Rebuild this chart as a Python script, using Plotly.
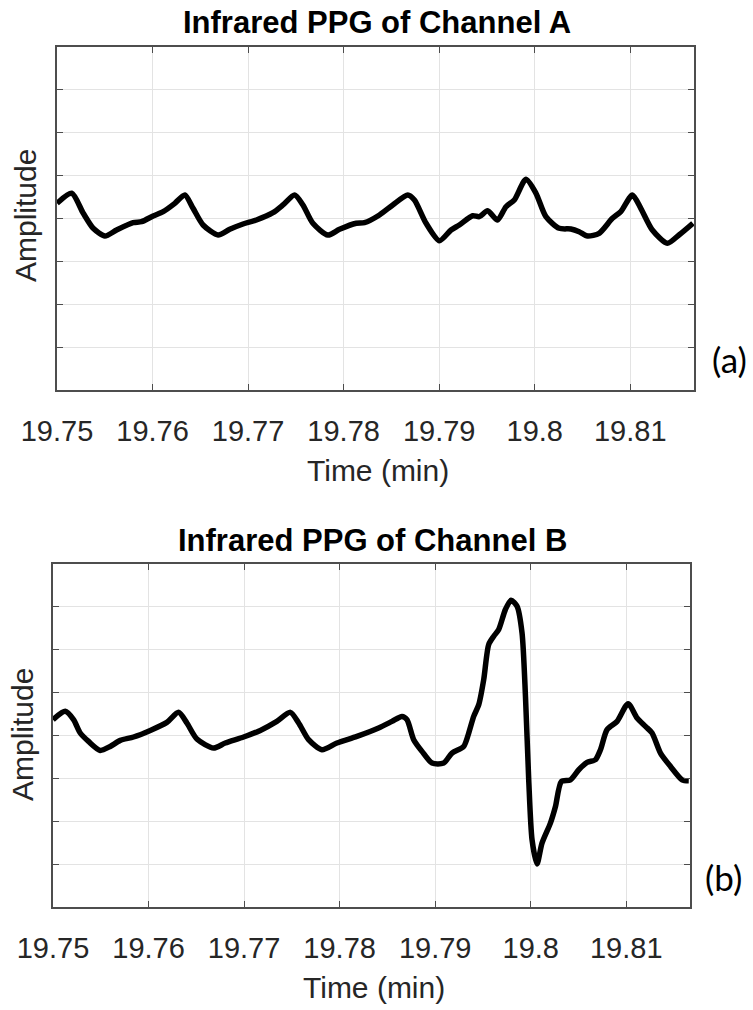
import plotly.graph_objects as go

# ---------------- data ----------------
time_a = [19.75, 19.75154, 19.75275, 19.75379, 19.75502, 19.75624, 19.75797, 19.75885,
          19.76006, 19.76111, 19.76233, 19.76338, 19.76424, 19.76529, 19.76686, 19.76808,
          19.76947, 19.77087, 19.7726, 19.77365, 19.77487, 19.77574, 19.77678, 19.77835,
          19.77957, 19.78132, 19.78218, 19.78375, 19.78514, 19.78671, 19.78741, 19.78863,
          19.79002, 19.79124, 19.79211, 19.7935, 19.7942, 19.79507, 19.79611, 19.79699,
          19.79786, 19.79908, 19.80013, 19.80117, 19.80256, 19.80378, 19.80465, 19.80552,
          19.80674, 19.80813, 19.80901, 19.81022, 19.8111, 19.81231, 19.81388, 19.8151,
          19.81656]
amp_a = [4.354, 4.588, 4.121, 3.771, 3.592, 3.732, 3.902, 3.925,
         4.058, 4.159, 4.354, 4.548, 4.238, 3.848, 3.615, 3.748,
         3.872, 3.965, 4.135, 4.315, 4.548, 4.315, 3.888, 3.615,
         3.748, 3.888, 3.902, 4.082, 4.315, 4.548, 4.431, 3.888,
         3.482, 3.732, 3.848, 4.065, 4.042, 4.182, 3.965, 4.275,
         4.431, 4.914, 4.588, 4.042, 3.771, 3.755, 3.692, 3.592,
         3.655, 4.005, 4.159, 4.548, 4.238, 3.732, 3.422, 3.615,
         3.888]

time_b = [19.75, 19.75128, 19.75215, 19.75285, 19.75372, 19.75494, 19.75599, 19.75704,
          19.75843, 19.76018, 19.76192, 19.76314, 19.76401, 19.76506, 19.76681, 19.76803,
          19.76995, 19.7717, 19.77343, 19.77484, 19.77571, 19.77675, 19.77815, 19.77972,
          19.78181, 19.78408, 19.78548, 19.78652, 19.78705, 19.78775, 19.78862, 19.78967,
          19.79089, 19.79176, 19.79298, 19.79351, 19.79403, 19.79456, 19.79508, 19.7956,
          19.79613, 19.79665, 19.79735, 19.79794, 19.79857, 19.79909, 19.79945, 19.79979,
          19.80014, 19.80066, 19.80118, 19.80206, 19.80259, 19.80321, 19.80416, 19.80503,
          19.8059, 19.80677, 19.8073, 19.80799, 19.80904, 19.81019, 19.81113, 19.81201,
          19.8127, 19.81358, 19.81463, 19.81584, 19.81654]
amp_b = [4.369, 4.563, 4.369, 4.058, 3.862, 3.652, 3.745, 3.886,
         3.965, 4.119, 4.306, 4.540, 4.292, 3.918, 3.708, 3.825,
         3.965, 4.119, 4.329, 4.540, 4.292, 3.902, 3.668, 3.825,
         3.979, 4.175, 4.329, 4.446, 4.369, 3.902, 3.629, 3.357,
         3.357, 3.591, 3.745, 4.058, 4.446, 4.720, 5.304, 6.121,
         6.315, 6.472, 6.939, 7.157, 7.016, 6.395, 4.914, 2.967,
         1.565, 1.005, 1.488, 1.956, 2.343, 2.928, 2.967, 3.201,
         3.372, 3.435, 3.668, 4.136, 4.329, 4.743, 4.409, 4.213,
         4.058, 3.591, 3.278, 2.967, 2.944]

tick_vals = [19.75, 19.76, 19.77, 19.78, 19.79, 19.80, 19.81]
tick_text = ["19.75", "19.76", "19.77", "19.78", "19.79", "19.8", "19.81"]
panel_titles = ["Infrared PPG of Channel A", "Infrared PPG of Channel B"]
panel_tags = ["(a)", "(b)"]

# ---------------- figure ----------------
W, H = 753, 1010
fig = go.Figure()
fig.add_trace(go.Scatter(x=time_a, y=amp_a, mode="lines", xaxis="x", yaxis="y",
                         line=dict(color="black", width=5.5, shape="spline", smoothing=0.7),
                         showlegend=False, hoverinfo="skip"))
fig.add_trace(go.Scatter(x=time_b, y=amp_b, mode="lines", xaxis="x2", yaxis="y2",
                         line=dict(color="black", width=5.5, shape="spline", smoothing=0.7),
                         showlegend=False, hoverinfo="skip"))

def px(v):
    return v / W

def py(v):
    return 1 - v / H

axis_col = "#4d4d4d"
grid_col = "#e3e3e3"
txt_col = "#262626"
font_main = "Liberation Sans, Arial, sans-serif"

xcommon = dict(range=[19.75, 19.81667], tickvals=tick_vals, ticktext=tick_text,
               showline=True, linecolor=axis_col, linewidth=1.5, mirror="ticks",
               ticks="inside", ticklen=6, tickcolor=axis_col, tickwidth=1,
               showgrid=True, gridcolor=grid_col, gridwidth=1, zeroline=False,
               tickfont=dict(family=font_main, size=29, color=txt_col),
               ticklabelstandoff=14, automargin=False, fixedrange=True)
ycommon = dict(range=[0, 8], dtick=1, tick0=0, showticklabels=False,
               showline=True, linecolor=axis_col, linewidth=1.5, mirror="ticks",
               ticks="inside", ticklen=6, tickcolor=axis_col, tickwidth=1,
               showgrid=True, gridcolor=grid_col, gridwidth=1, zeroline=False,
               automargin=False, fixedrange=True)

fig.update_layout(
    template="none",
    width=W, height=H, autosize=False,
    margin=dict(l=0, r=0, t=0, b=0, autoexpand=False),
    paper_bgcolor="white", plot_bgcolor="white",
    xaxis=dict(domain=[px(57), px(694)], anchor="y", **xcommon),
    yaxis=dict(domain=[py(390), py(47)], anchor="x", **ycommon),
    xaxis2=dict(domain=[px(53), px(690)], anchor="y2", **xcommon),
    yaxis2=dict(domain=[py(907), py(564)], anchor="x2", **ycommon),
)

# text placements (pixel positions in the 753x1010 page)
title_pos = [(377, 22), (372, 540)]
xlabel_pos = [(378, 471), (374, 987)]
ylabel_pos = [(26, 216), (22, 735)]
tag_pos = [(729, 359), (723, 877)]

for i in range(2):
    tx, ty = title_pos[i]
    fig.add_annotation(text="<b>%s</b>" % panel_titles[i], x=px(tx), y=py(ty),
                       xref="paper", yref="paper", showarrow=False,
                       xanchor="center", yanchor="middle",
                       font=dict(family=font_main, size=31, color="black"))
    lx, ly = xlabel_pos[i]
    fig.add_annotation(text="Time (min)", x=px(lx), y=py(ly),
                       xref="paper", yref="paper", showarrow=False,
                       xanchor="center", yanchor="middle",
                       font=dict(family=font_main, size=30, color=txt_col))
    yx, yy = ylabel_pos[i]
    fig.add_annotation(text="Amplitude", x=px(yx), y=py(yy), textangle=-90,
                       xref="paper", yref="paper", showarrow=False,
                       xanchor="center", yanchor="middle",
                       font=dict(family=font_main, size=30, color=txt_col))
    gx, gy = tag_pos[i]
    fig.add_annotation(text=panel_tags[i], x=px(gx), y=py(gy),
                       xref="paper", yref="paper", showarrow=False,
                       xanchor="center", yanchor="middle",
                       font=dict(family="Lato, Open Sans, sans-serif", size=35, color="black"))

fig.write_html("out.html")
